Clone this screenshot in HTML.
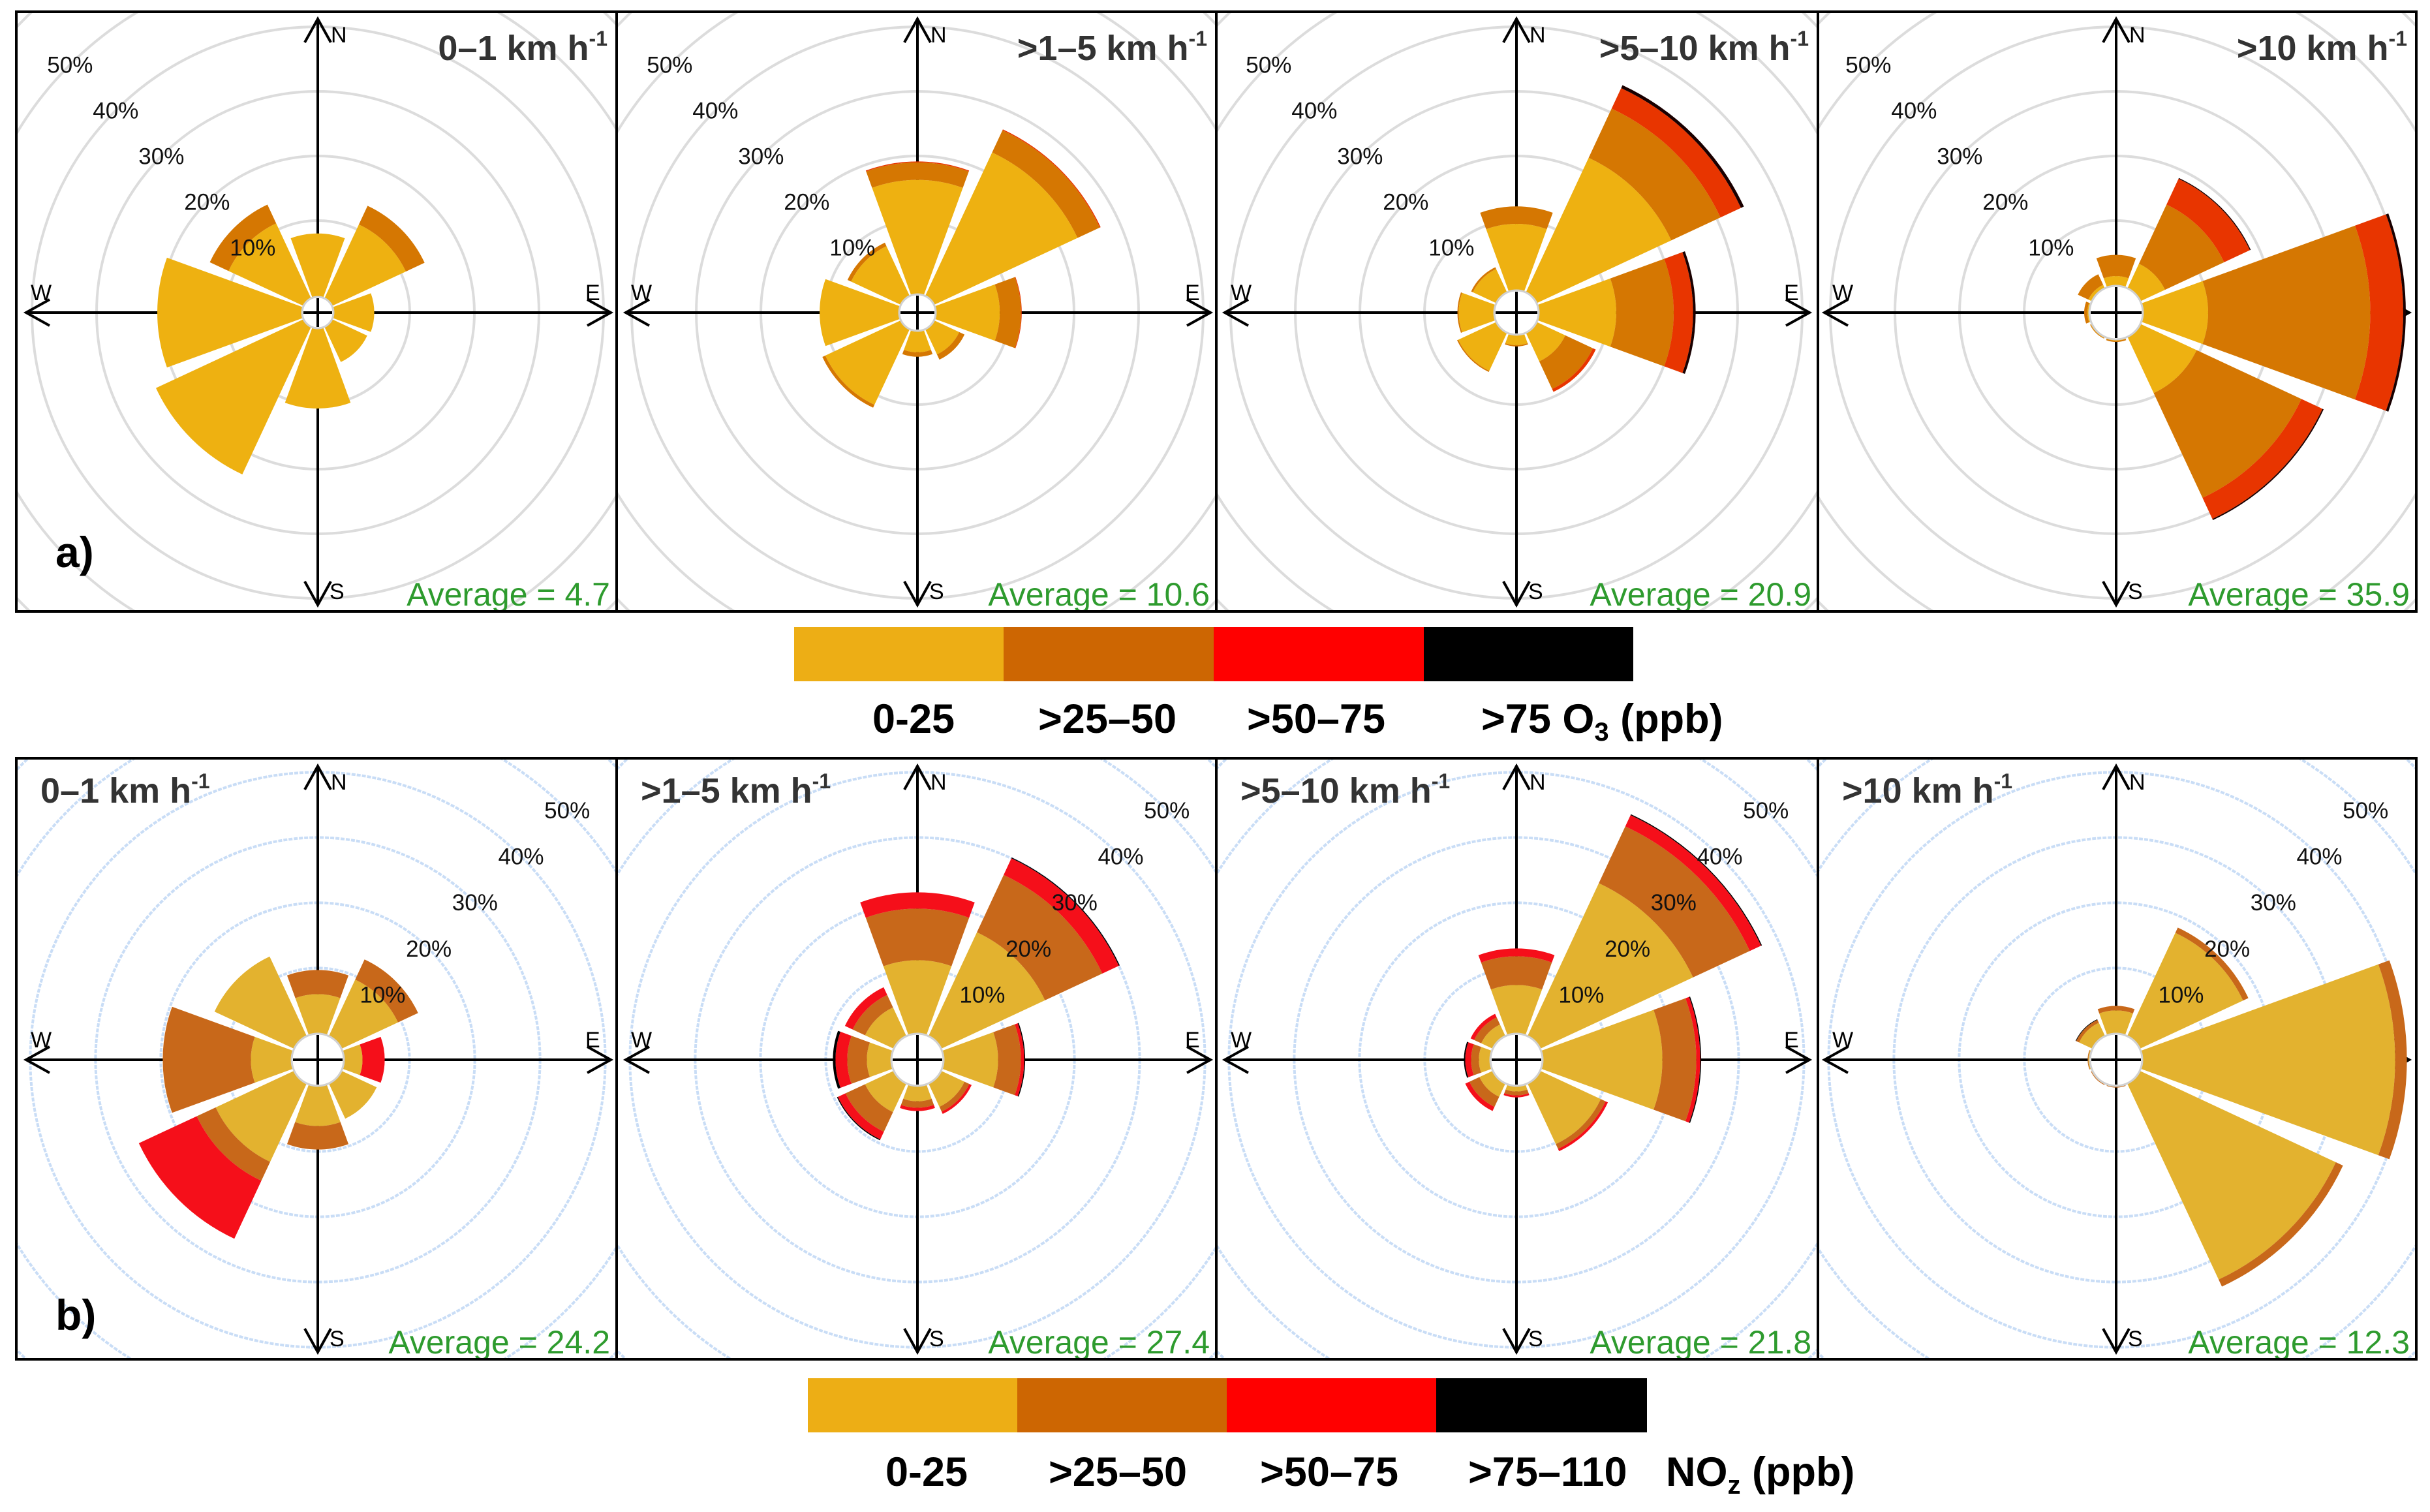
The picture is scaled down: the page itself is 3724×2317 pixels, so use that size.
<!DOCTYPE html>
<html>
<head>
<meta charset="utf-8">
<style>
  html,body{margin:0;padding:0;background:#fff;}
  svg{display:block;}
  text{font-family:"Liberation Sans",Arial,sans-serif;}
</style>
</head>
<body>
<svg id="fig" xmlns="http://www.w3.org/2000/svg" width="3724" height="2317" viewBox="0 0 3724 2317">
  <rect x="0" y="0" width="3724" height="2317" fill="#fff"/>
  <g id="panels"></g>

  <!-- Legend O3 -->
  <g>
    <rect x="1217" y="961" width="322" height="83" fill="#EDAE15"/>
    <rect x="1538" y="961" width="323" height="83" fill="#CD6602"/>
    <rect x="1860" y="961" width="323" height="83" fill="#FF0000"/>
    <rect x="2182" y="961" width="321" height="83" fill="#000000"/>
    <g font-weight="bold" font-size="63" fill="#000">
      <text x="1400" y="1123" text-anchor="middle">0-25</text>
      <text x="1697" y="1123" text-anchor="middle">&gt;25–50</text>
      <text x="2017" y="1123" text-anchor="middle">&gt;50–75</text>
      <text x="2270" y="1123">&gt;75 O<tspan font-size="40" dy="12">3</tspan><tspan dy="-12"> (ppb)</tspan></text>
    </g>
  </g>

  <!-- Legend NOz -->
  <g>
    <rect x="1238" y="2112" width="322" height="83" fill="#EDAE15"/>
    <rect x="1559" y="2112" width="322" height="83" fill="#CD6602"/>
    <rect x="1880" y="2112" width="322" height="83" fill="#FF0000"/>
    <rect x="2201" y="2112" width="323" height="83" fill="#000000"/>
    <g font-weight="bold" font-size="63" fill="#000">
      <text x="1420" y="2277" text-anchor="middle">0-25</text>
      <text x="1713" y="2277" text-anchor="middle">&gt;25–50</text>
      <text x="2037" y="2277" text-anchor="middle">&gt;50–75</text>
      <text x="2250" y="2277">&gt;75–110</text>
      <text x="2553" y="2277">NO<tspan font-size="40" dy="12">z</tspan><tspan dy="-12"> (ppb)</tspan></text>
    </g>
  </g>
</svg>

<script>
// ---- Data (percent frequency per direction, per concentration bin) ----
const directions = ['N','NE','E','SE','S','SW','W','NW'];
const directionAngles = [0,45,90,135,180,225,270,315];
const ringTicks = [10,20,30,40,50,60,70];
const ringLabels = ['10%','20%','30%','40%','50%'];
const speedLabels = ['0–1','>1–5','>5–10','>10'];
const o3Averages = ['4.7','10.6','20.9','35.9'];
const nozAverages = ['24.2','27.4','21.8','12.3'];

// O3 row (a): bins 0-25, >25-50, >50-75, >75
const o3_s1_bin1 = [8.0,10.8,4.5,4.2,10.6,23.4,20.6,11.0];
const o3_s1_bin2 = [0,3.2,0,0,0,0,0,3.2];
const o3_s1_bin3 = [0,0,0,0,0,0,0,0];
const o3_s1_bin4 = [0,0,0,0,0,0,0,0];

const o3_s2_bin1 = [16.3,23.1,8.5,2.9,1.9,11.5,10.9,7.1];
const o3_s2_bin2 = [2.7,3.8,3.3,0.9,0.7,0.5,0,0.6];
const o3_s2_bin3 = [0.15,0.15,0.1,0,0,0,0,0];
const o3_s2_bin4 = [0,0,0,0,0,0,0,0];

const o3_s3_bin1 = [9.5,22.2,11.2,4.1,0.8,5.7,4.7,3.2];
const o3_s3_bin2 = [2.7,8.4,8.9,4.7,0.2,0.2,0.2,0.3];
const o3_s3_bin3 = [0,3.5,3.0,0.5,0,0,0,0];
const o3_s3_bin4 = [0,0.5,0.4,0,0,0,0,0];

const o3_s4_bin1 = [1.4,4.1,10.0,9.5,0.1,0.1,0.2,0.5];
const o3_s4_bin2 = [3.3,10.1,25.1,17.9,0.2,0.1,0.5,1.8];
const o3_s4_bin3 = [0,4.4,5.1,3.6,0,0,0,0];
const o3_s4_bin4 = [0,0.15,0.4,0.2,0,0,0,0];

// NOz row (b): bins 0-25, >25-50, >50-75, >75-110
const noz_s1_bin1 = [6.0,9.5,2.8,5.9,6.1,13.2,6.2,13.4];
const noz_s1_bin2 = [3.7,3.4,0,0,3.6,3.2,13.5,0];
const noz_s1_bin3 = [0,0,3.4,0,0,9.8,0,0];
const noz_s1_bin4 = [0,0,0,0,0,0,0,0];

const noz_s2_bin1 = [11.2,17.5,8.3,3.9,2.3,4.8,3.7,4.8];
const noz_s2_bin2 = [7.9,9.7,3.5,0.8,1.0,3.3,3.0,2.1];
const noz_s2_bin3 = [2.5,2.8,0.5,0.4,0.5,1.3,1.8,1.3];
const noz_s2_bin4 = [0,0.15,0.15,0,0,0.15,0.4,0];

const noz_s3_bin1 = [7.4,25.8,18.3,10.2,0.8,2.2,1.7,1.9];
const noz_s3_bin2 = [4.4,9.6,5.2,0.8,0.6,1.7,1.2,1.2];
const noz_s3_bin3 = [1.2,1.9,0.6,0.4,0.3,0.7,0.9,0.6];
const noz_s3_bin4 = [0,0.15,0.15,0,0,0,0.2,0];

const noz_s4_bin1 = [3.5,17.4,38.7,33.1,0.1,0.1,0.2,2.2];
const noz_s4_bin2 = [0.7,0.9,1.8,1.2,0.1,0.1,0.1,0.5];
const noz_s4_bin3 = [0,0,0,0,0,0,0,0];
const noz_s4_bin4 = [0,0,0,0,0,0,0,0.1];

// ---- Layout / style (not data) ----
const NS = 'http://www.w3.org/2000/svg';
const panelLefts = [25,945,1864,2786];
const panelRightEdge = 3703;
const rows = [
  {key:'o3', top:18, bottom:937, cy:479, r0:42, k:9.9, ringColor:'#dcdcdc', ringDash:null,
   colors:['#EEB111','#D57702','#E83500','#1a0000'], holes:[24,28,34,41],
   bins:[[o3_s1_bin1,o3_s1_bin2,o3_s1_bin3,o3_s1_bin4],[o3_s2_bin1,o3_s2_bin2,o3_s2_bin3,o3_s2_bin4],
         [o3_s3_bin1,o3_s3_bin2,o3_s3_bin3,o3_s3_bin4],[o3_s4_bin1,o3_s4_bin2,o3_s4_bin3,o3_s4_bin4]],
   avgs:o3Averages, labelSide:-1, letter:'a)'},
  {key:'noz', top:1162, bottom:2083, cy:1624, r0:40.6, k:10.0, ringColor:'#c9ddf6', ringDash:'6 2',
   colors:['#E3B22F','#C8681A','#F50F1A','#000000'], holes:[40,40,40,40],
   bins:[[noz_s1_bin1,noz_s1_bin2,noz_s1_bin3,noz_s1_bin4],[noz_s2_bin1,noz_s2_bin2,noz_s2_bin3,noz_s2_bin4],
         [noz_s3_bin1,noz_s3_bin2,noz_s3_bin3,noz_s3_bin4],[noz_s4_bin1,noz_s4_bin2,noz_s4_bin3,noz_s4_bin4]],
   avgs:nozAverages, labelSide:1, letter:'b)'}
];
const centersX = [487,1406,2324,3243];
const HALF = 20;

function mk(tag, attrs, parent){
  const e = document.createElementNS(NS, tag);
  for (const a in attrs) e.setAttribute(a, attrs[a]);
  if (parent) parent.appendChild(e);
  return e;
}
function pt(cx,cy,r,deg){ const a=deg*Math.PI/180; return [cx+r*Math.sin(a), cy-r*Math.cos(a)]; }
function sectorPath(cx,cy,ri,ro,a0,a1){
  const p1=pt(cx,cy,ro,a0), p2=pt(cx,cy,ro,a1);
  if (ri<=0.01){
    return `M${cx},${cy} L${p1[0]},${p1[1]} A${ro},${ro} 0 0 1 ${p2[0]},${p2[1]} Z`;
  }
  const p3=pt(cx,cy,ri,a1), p4=pt(cx,cy,ri,a0);
  return `M${p4[0]},${p4[1]} L${p1[0]},${p1[1]} A${ro},${ro} 0 0 1 ${p2[0]},${p2[1]} L${p3[0]},${p3[1]} A${ri},${ri} 0 0 0 ${p4[0]},${p4[1]} Z`;
}
function arrowHead(g,x,y,dir){
  // dir: direction unit vector pointing outward
  const L=36, w=20;
  const bx=x-dir[0]*L, by=y-dir[1]*L;
  const px=-dir[1], py=dir[0];
  const p = mk('polyline',{points:`${bx+px*w},${by+py*w} ${x},${y} ${bx-px*w},${by-py*w}`,fill:'none',stroke:'#000','stroke-width':4},g);
  
  
}

const root = document.getElementById('panels');
const scaleR = (row,p) => row.r0 + p*row.k;

rows.forEach((row, ri) => {
  for (let pi=0; pi<4; pi++){
    const left = panelLefts[pi];
    const right = pi<3 ? panelLefts[pi+1] : panelRightEdge;
    const cx = centersX[pi], cy = row.cy;
    const g = mk('g',{},root);
    
    
    const clipId = `clip-${row.key}-${pi}`;
    const cp = mk('clipPath',{id:clipId},g);
    mk('rect',{x:left,y:row.top,width:right-left,height:row.bottom-row.top},cp);
    const inner = mk('g',{'clip-path':`url(#${clipId})`},g);

    // rings
    ringTicks.forEach(t=>{
      const c = mk('circle',{cx:cx,cy:cy,r:scaleR(row,t),fill:'none',stroke:row.ringColor,'stroke-width':4},inner);
      if(row.ringDash) c.setAttribute('stroke-dasharray',row.ringDash);
      
      
    });

    // axes
    const ax = mk('g',{stroke:'#000','stroke-width':4},inner);
    
    
    mk('line',{x1:cx,y1:cy-450,x2:cx,y2:cy+448},ax);
    mk('line',{x1:cx-447,y1:cy,x2:cx+449,y2:cy},ax);
    arrowHead(ax,cx,cy-450,[0,-1]);
    arrowHead(ax,cx,cy+448,[0,1]);
    arrowHead(ax,cx-447,cy,[-1,0]);
    arrowHead(ax,cx+449,cy,[1,0]);
    const lbl = mk('g',{'font-size':34,fill:'#000'},inner);
    
    
    const tN = mk('text',{x:cx+20,y:cy-414},lbl); tN.textContent='N';
    const tS = mk('text',{x:cx+18,y:cy+439},lbl); tS.textContent='S';
    const tW = mk('text',{x:left+22,y:cy-19},lbl); tW.textContent='W';
    const tE = mk('text',{x:cx+410,y:cy-19},lbl); tE.textContent='E';

    // wedges
    const bins = row.bins[pi];
    directions.forEach((d, di) => {
      const ang = directionAngles[di];
      let cum = 0;
      const wg = mk('g',{},inner);
      
      
      for (let b=0; b<4; b++){
        const v = bins[b][di];
        if (!v) continue;
        const rIn = cum===0 ? 0 : scaleR(row,cum);
        cum += v;
        const rOut = scaleR(row,cum);
        const path = mk('path',{d:sectorPath(cx,cy,rIn,rOut,ang-HALF,ang+HALF),fill:row.colors[b]},wg);
        
        
      }
    });

    // hole
    const hole = mk('circle',{cx:cx,cy:cy,r:row.holes[pi],fill:'#fff',stroke:'#d0d0d0','stroke-width':3},inner);
    
    
    const cr = mk('g',{stroke:'#000','stroke-width':4},inner);
    
    
    const h = row.holes[pi]-2;
    mk('line',{x1:cx,y1:cy-h,x2:cx,y2:cy+h},cr);
    mk('line',{x1:cx-h,y1:cy,x2:cx+h,y2:cy},cr);

    // ring labels
    const rl = mk('g',{'font-size':35,fill:'#111','text-anchor':'middle'},inner);
    
    
    ringLabels.forEach((s,i)=>{
      const r = scaleR(row,ringTicks[i])*0.707;
      const t = mk('text',{x:cx+row.labelSide*r,y:cy-r+12},rl);
      t.textContent = s;
    });

    // title
    const title = mk('text',{'font-size':54,'font-weight':'bold',fill:'#333'},inner);
    if (row.labelSide<0){ title.setAttribute('x',right-14); title.setAttribute('y',row.top+74); title.setAttribute('text-anchor','end'); }
    else { title.setAttribute('x',left+37); title.setAttribute('y',row.top+68); }
    
    
    const t1 = mk('tspan',{},title); t1.textContent = speedLabels[pi]+' km h';
    const t2 = mk('tspan',{'font-size':32,dy:-22},title); t2.textContent='-1';

    // average
    const av = mk('text',{x:right-10,y:row.bottom-9,'font-size':50,fill:'#2E9B2E','text-anchor':'end'},inner);
    
    
    av.textContent = 'Average = '+row.avgs[pi];

    if (pi===0){
      const lt = mk('text',{x:left+60,y:row.bottom-(ri===0?68:45),'font-size':66,'font-weight':'bold',fill:'#000'},inner);
      
      
      lt.textContent = row.letter;
    }

    // frame
    const fr = mk('rect',{x:left,y:row.top,width:right-left,height:row.bottom-row.top,fill:'none',stroke:'#000','stroke-width':4},g);
    
    
  }
});
</script>
</body>
</html>
